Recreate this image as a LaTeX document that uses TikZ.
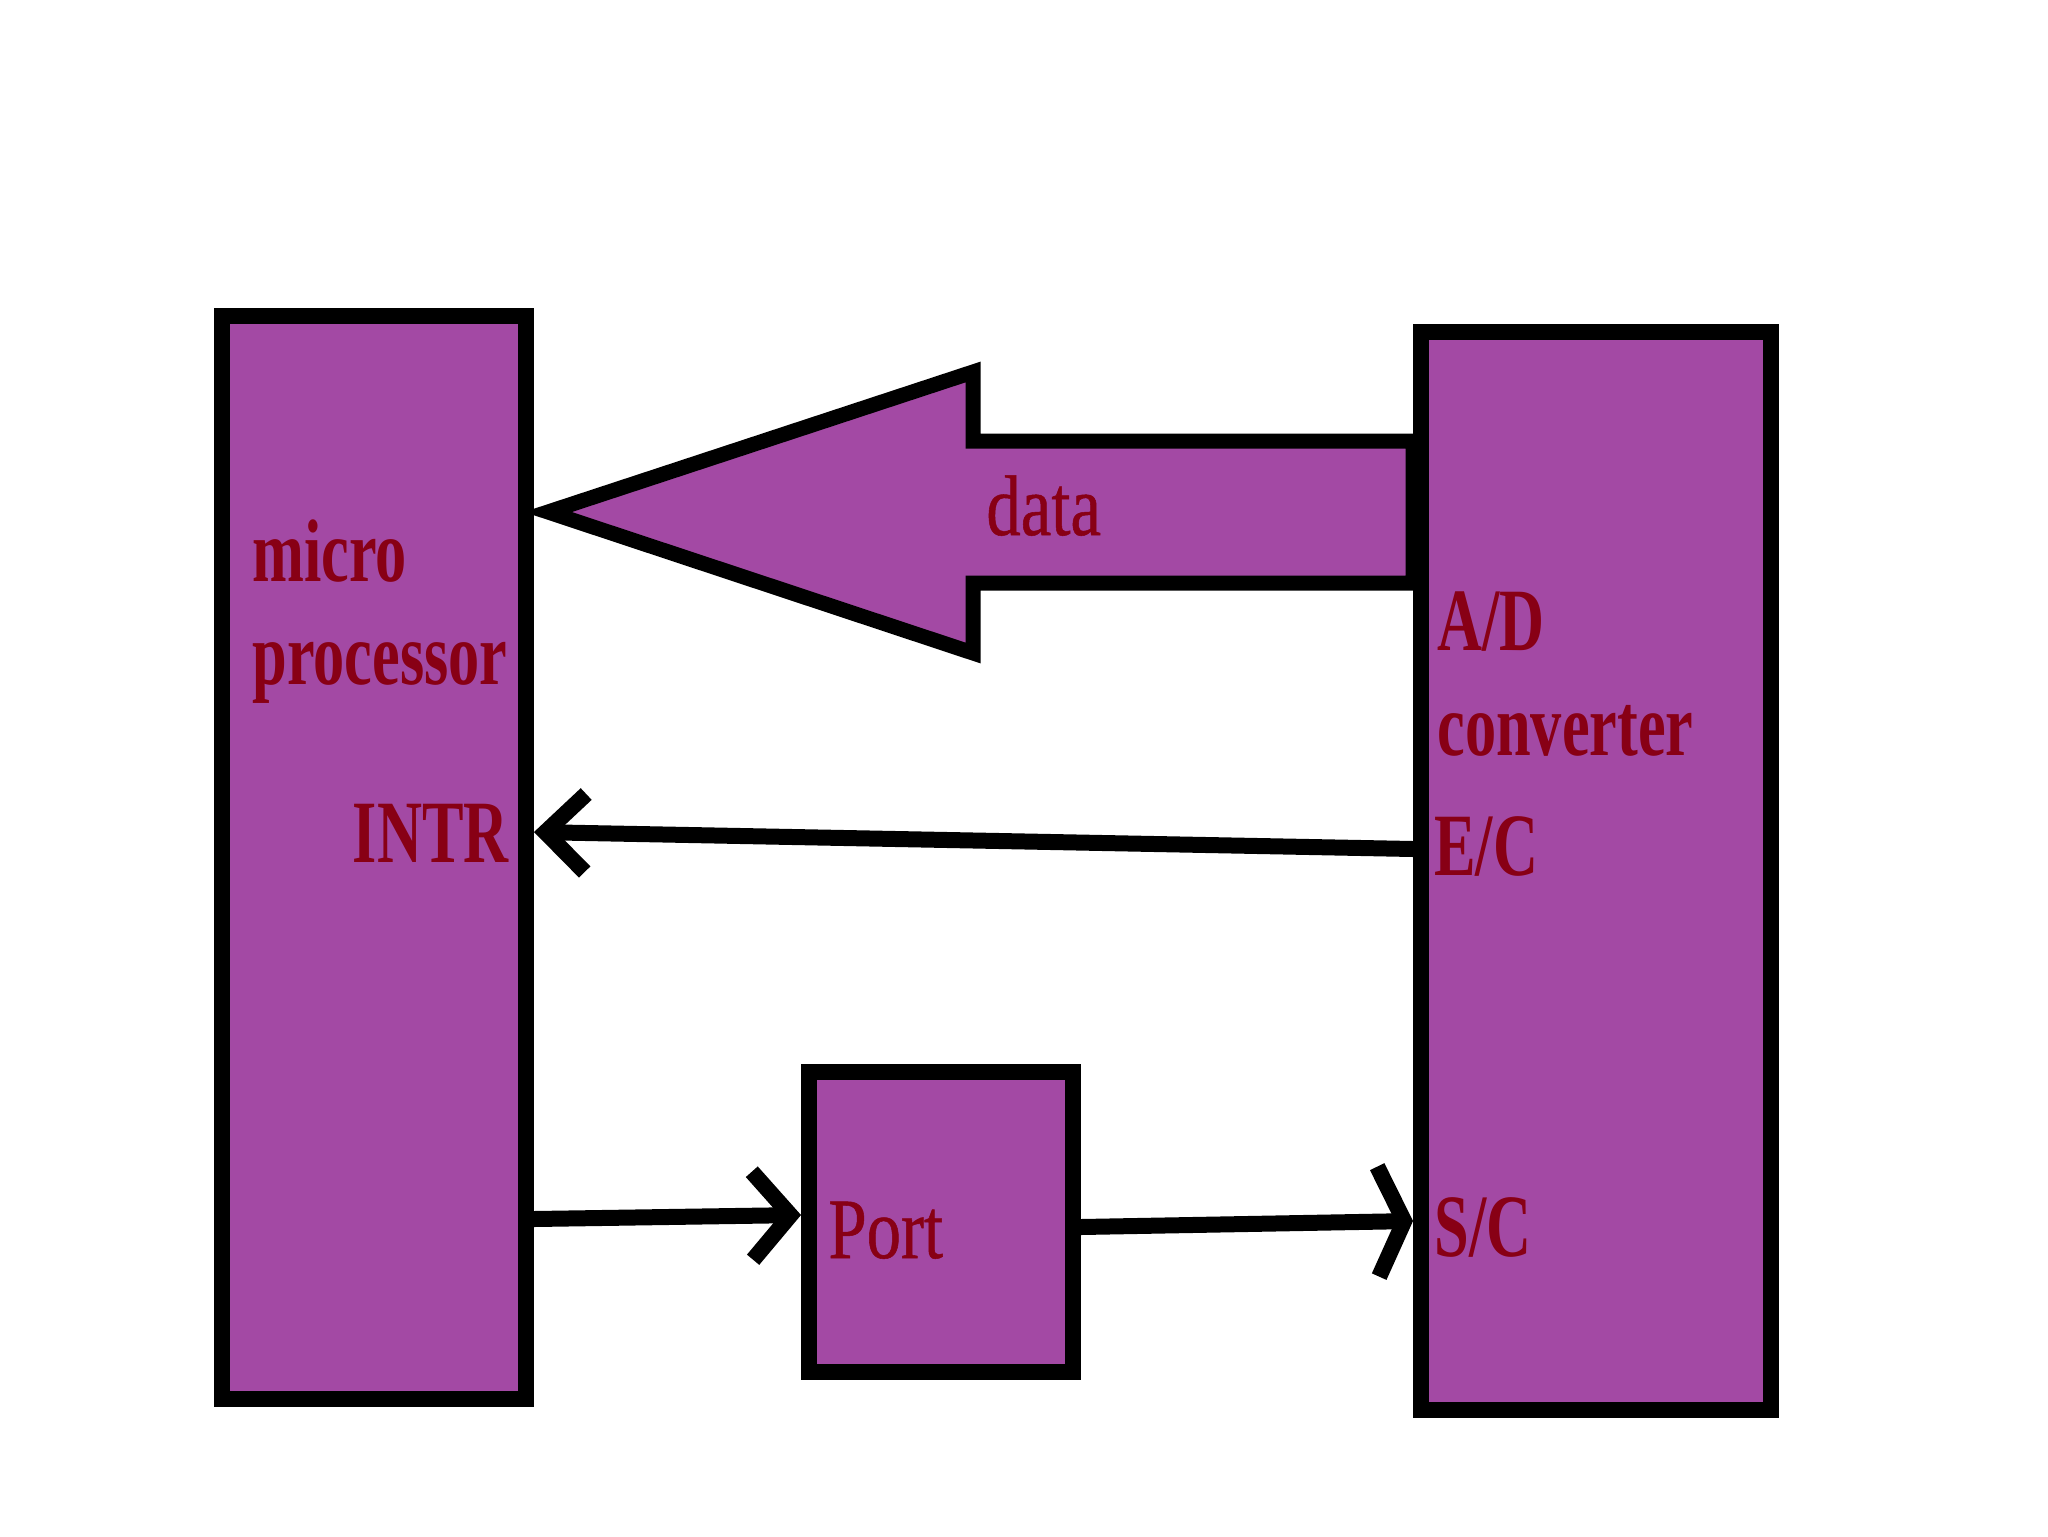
\documentclass[tikz,border=0pt]{standalone}
\usepackage{fontspec}
\setmainfont{Liberation Serif}
\newfontfamily\lblb[FakeStretch=0.70]{Liberation Serif}
\newfontfamily\lblr[FakeStretch=0.80,FakeBold=0.6]{Liberation Serif}
\usetikzlibrary{arrows.meta,fit}
\definecolor{purp}{RGB}{163,73,164}
\definecolor{txtred}{RGB}{136,0,21}
\begin{document}
\begin{tikzpicture}[x=0.5pt,y=-0.5pt,
  box/.style={draw=black, fill=purp, line width=8pt, inner sep=0pt},
  lbl/.style={text=txtred, inner sep=0pt, anchor=base west, font=\lblb\bfseries\fontsize{44.5}{50}\selectfont},
  lblthin/.style={text=txtred, inner sep=0pt, anchor=base west, font=\lblr\fontsize{43}{48}\selectfont},
  conn/.style={draw=black, line width=8pt},
  bigarrow/.style={draw=black, fill=purp, line width=7.5pt, line join=miter}
]
\fill[white] (0,0) rectangle (2048,1536);
\useasboundingbox (0,0) rectangle (2048,1536);

% big data arrow (drawn first, boxes cover its ends)
\draw[bigarrow] (548,512) -- (973,372) -- (973,441) -- (1413,441) -- (1413,583) -- (973,583) -- (973,653) -- cycle;

% boxes
\node[box, fit={(222,316) (526,1399)}] (mp) {};
\node[box, fit={(1421,332) (1771,1410)}] (ad) {};
\node[box, fit={(809,1072) (1073,1372)}] (port) {};

% labels
\node[lbl] (micro) at (252,581) {micro};
\node[lbl] (proc) at (252,684) {processor};
\node[lbl, anchor=base east] (intr) at (509,862) {INTR};
\node[lbl] (adl) at (1437,650) {A/D};
\node[lbl] (conv) at (1437,755) {converter};
\node[lbl] (ec) at (1434,875) {E/C};
\node[lbl] (sc) at (1434,1256) {S/C};
\node[lblthin] (data) at (986,535) {data};
\node[lblthin] (porttxt) at (828,1258) {Port};

% connector levels
\coordinate (ecY) at (0,849);
\coordinate (intrY) at (0,832);
\coordinate (p1Y) at (0,1219);
\coordinate (p2Y) at (0,1215);
\coordinate (s1Y) at (0,1227);
\coordinate (s2Y) at (0,1221);

\draw[conn, -{Straight Barb[length=20pt,width=39pt]}] (ad.west |- ecY) -- (mp.east |- intrY);
\draw[conn, -{Straight Barb[length=19pt,width=44pt]}] (mp.east |- p1Y) -- (port.west |- p2Y);
\draw[conn, -{Straight Barb[length=13pt,width=55pt]}] (port.east |- s1Y) -- (ad.west |- s2Y);
\end{tikzpicture}
\end{document}
